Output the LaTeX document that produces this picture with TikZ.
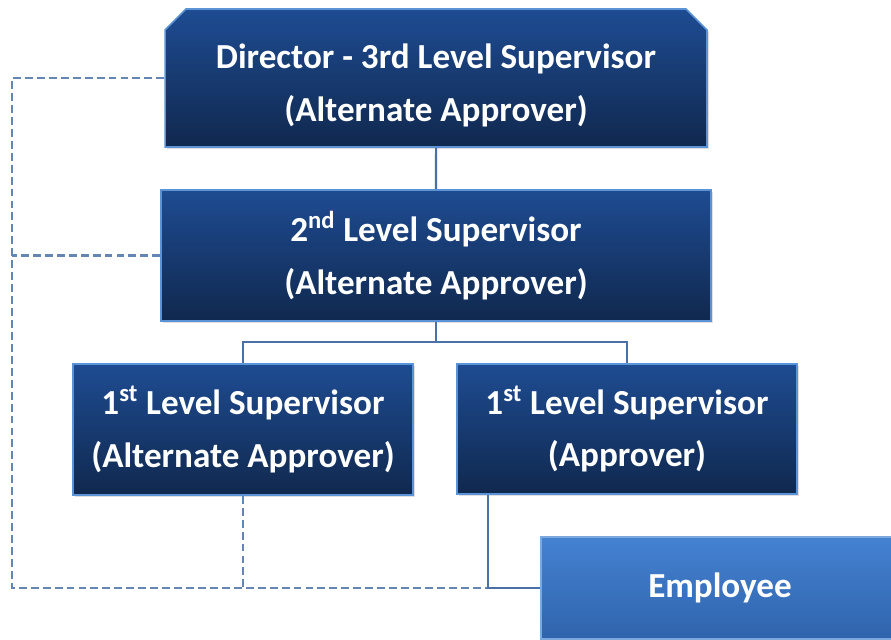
\documentclass[tikz,border=0pt]{standalone}
\usepackage{fontspec}
\setmainfont{Carlito}
\usetikzlibrary{calc,shapes.misc,shadows}
\definecolor{NavyTop}{RGB}{30,76,146}
\definecolor{NavyBottom}{RGB}{16,40,78}
\definecolor{NavyEdge}{RGB}{92,146,214}
\definecolor{SkyTop}{RGB}{68,130,210}
\definecolor{SkyBottom}{RGB}{48,100,172}
\definecolor{LinkBlue}{RGB}{74,112,166}
\tikzset{
  link/.style={line width=1.2pt,draw=LinkBlue},
  dashlink/.style={line width=1.2pt,draw=LinkBlue!85,dash pattern=on 4.5pt off 2.3pt},
  rolebox/.style={draw=NavyEdge,line width=0.9pt,top color=NavyTop,bottom color=NavyBottom,
    text=white,align=center,inner sep=0pt,
    font=\fontsize{20}{30}\selectfont\bfseries,
    drop shadow={opacity=0.25,shadow xshift=1.2pt,shadow yshift=-1.2pt}},
  topbox/.style={rolebox,chamfered rectangle,
    chamfered rectangle corners={north west,north east},
    chamfered rectangle xsep=0.2cm,chamfered rectangle ysep=0.22cm},
  empbox/.style={rolebox,top color=SkyTop,bottom color=SkyBottom,draw=NavyEdge!80}
}

\begin{document}
\begin{tikzpicture}[x=0.02cm,y=-0.02cm]
  \useasboundingbox (0,0) rectangle (891,639);
  \clip (0,0) rectangle (891,639);
  \fill[white] (0,0) rectangle (891,639);
  % boxes
  \node[topbox,minimum width=10.84cm,minimum height=2.76cm] (dir) at (436,78)
    {\rule{0pt}{0.78cm}Director - 3rd Level Supervisor\\(Alternate Approver)};
  \node[rolebox,minimum width=11cm,minimum height=2.62cm] (second) at (436,255.5)
    {2\textsuperscript{nd} Level Supervisor\\(Alternate Approver)};
  \node[rolebox,minimum width=6.8cm,minimum height=2.62cm] (firstalt) at (243,429.5)
    {1\textsuperscript{st} Level Supervisor\\(Alternate Approver)};
  \node[rolebox,minimum width=6.8cm,minimum height=2.6cm] (firstapp) at (627,429)
    {1\textsuperscript{st} Level Supervisor\\(Approver)};
  \node[empbox,minimum width=7.16cm,minimum height=2.04cm] (emp) at (720,588)
    {Employee};
  \coordinate (bus) at (436,342);
  \coordinate (lc) at (12,588);
  % dashed alternate links
  \draw[dashlink] (dir.west) -| (lc) -- (emp.west);
  \draw[dashlink] (second.west) -- (second.west -| lc);
  \draw[dashlink] (firstalt.south) -- (firstalt.south |- lc);
  % solid links
  \draw[link] (dir) -- (second);
  \draw[link] (second) -- (bus);
  \draw[link] (bus) -| (firstalt);
  \draw[link] (bus) -| (firstapp);
  \draw[link] ($(firstapp.south west)+(32,0)$) |- (emp.west);
\end{tikzpicture}
\end{document}
